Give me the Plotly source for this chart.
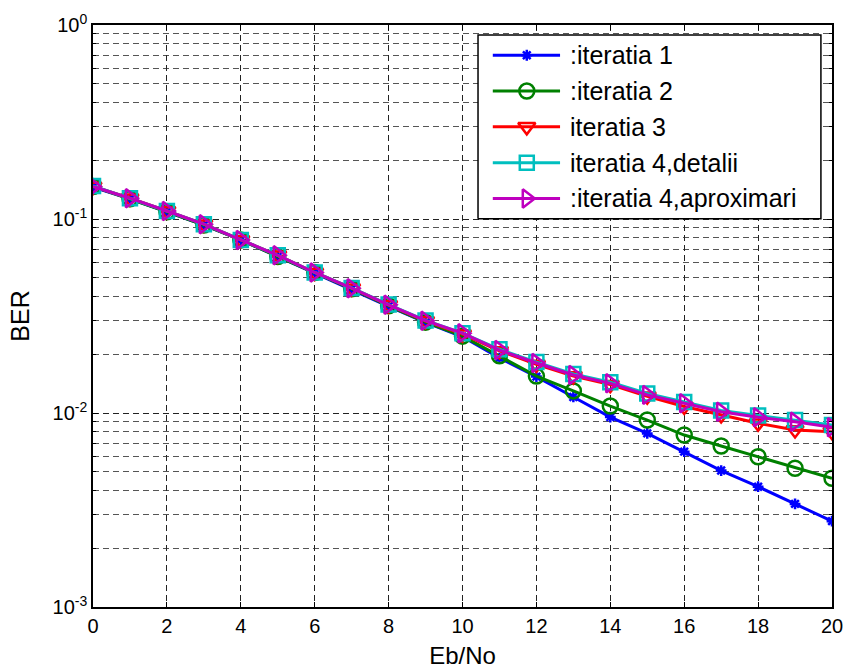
import plotly.graph_objects as go

# Eb/No axis (dB)
ebno = list(range(0, 21))

# BER curves per decoding iteration
ber_it1 = [0.146, 0.127, 0.109, 0.093, 0.078, 0.064, 0.053, 0.0435, 0.0355, 0.0293, 0.0247,
           0.0192, 0.0154, 0.0121, 0.00953, 0.00785, 0.00632, 0.00505, 0.00417, 0.00340, 0.00277]
ber_it2 = [0.147, 0.127, 0.109, 0.093, 0.078, 0.064, 0.053, 0.0437, 0.0357, 0.0294, 0.0249,
           0.0197, 0.0155, 0.0130, 0.01086, 0.0092, 0.0077, 0.00676, 0.00595, 0.00519, 0.00461]
ber_it3 = [0.147, 0.128, 0.110, 0.094, 0.078, 0.065, 0.053, 0.0440, 0.0360, 0.0298, 0.0255,
           0.0209, 0.0178, 0.0155, 0.0140, 0.0122, 0.0108, 0.00977, 0.00885, 0.00817, 0.00801]
ber_it4_det = [0.148, 0.128, 0.110, 0.094, 0.078, 0.065, 0.053, 0.0441, 0.0362, 0.0300, 0.0258,
               0.0213, 0.0183, 0.0159, 0.0144, 0.0126, 0.0114, 0.0103, 0.0097, 0.0092, 0.00867]
ber_it4_apr = [0.147, 0.128, 0.110, 0.094, 0.078, 0.065, 0.053, 0.0440, 0.0361, 0.0299, 0.0258,
               0.0211, 0.0181, 0.0157, 0.01422, 0.0124, 0.01122, 0.01016, 0.0095, 0.00902, 0.00844]

series_names = [":iteratia 1", ":iteratia 2", "iteratia 3", "iteratia 4,detalii", ":iteratia 4,aproximari"]
series_values = [ber_it1, ber_it2, ber_it3, ber_it4_det, ber_it4_apr]
series_colors = ["#0000FF", "#008000", "#FF0000", "#00BFBF", "#BF00BF"]
series_symbols = ["asterisk-open", "circle-open", "triangle-down-open", "square-open", "triangle-right-open"]
series_sizes = [9, 15, 15, 14, 16]

x_ticks = list(range(0, 21, 2))
y_major = [1e-3, 1e-2, 1e-1, 1e0]
y_major_text = ["10<sup>-3</sup>", "10<sup>-2</sup>", "10<sup>-1</sup>", "10<sup>0</sup>"]
y_minor = [m * 10.0 ** e for e in (-3, -2, -1) for m in range(2, 10)]

FONT = "Liberation Sans, Arial, sans-serif"

fig = go.Figure()
for name, vals, col, sym, sz in zip(series_names, series_values, series_colors,
                                    series_symbols, series_sizes):
    fig.add_trace(go.Scatter(
        x=ebno, y=vals, name=name, mode="lines+markers",
        line=dict(color=col, width=3),
        marker=dict(symbol=sym, size=sz, color=col, line=dict(color=col, width=2.5)),
        showlegend=False,
    ))

# Legend box drawn on an overlay axis spanning the plot area (0..1 in both directions)
box_x0, box_x1, box_y0, box_y1 = 0.521, 0.985, 0.667, 0.983
row_y0, row_step = 0.948, -0.0615
line_x0, line_x1, sym_x, text_x = 0.541, 0.632, 0.587, 0.643

fig.add_trace(go.Scatter(
    x=[box_x0, box_x1, box_x1, box_x0, box_x0], y=[box_y0, box_y0, box_y1, box_y1, box_y0],
    xaxis="x2", yaxis="y2", mode="lines", fill="toself", fillcolor="white",
    line=dict(color="black", width=1.5), hoverinfo="skip", showlegend=False,
))
for i, (name, col, sym, sz) in enumerate(zip(series_names, series_colors, series_symbols, series_sizes)):
    ry = row_y0 + i * row_step
    fig.add_trace(go.Scatter(
        x=[line_x0, line_x1], y=[ry, ry], xaxis="x2", yaxis="y2", mode="lines",
        line=dict(color=col, width=3), hoverinfo="skip", showlegend=False,
    ))
    fig.add_trace(go.Scatter(
        x=[sym_x], y=[ry], xaxis="x2", yaxis="y2", mode="markers",
        marker=dict(symbol=sym, size=sz, color=col, line=dict(color=col, width=2.5)),
        hoverinfo="skip", showlegend=False,
    ))
    fig.add_annotation(
        x=text_x, y=ry, xref="paper", yref="paper", text=name, showarrow=False,
        xanchor="left", yanchor="middle", font=dict(family=FONT, size=25, color="black"),
    )

fig.update_layout(
    width=845, height=669,
    margin=dict(l=93, r=13, t=25, b=62),
    paper_bgcolor="white", plot_bgcolor="white",
    font=dict(family=FONT, size=20, color="black"),
    showlegend=False,
    xaxis=dict(
        range=[0, 20], tickvals=x_ticks, ticks="inside", ticklen=5, tickcolor="black",
        showline=True, linecolor="black", linewidth=1.5, mirror="ticks",
        showgrid=True, gridcolor="#222222", griddash="6px,4px", gridwidth=1,
        zeroline=False, automargin=False,
        title=dict(text="Eb/No", font=dict(size=24), standoff=12),
        tickfont=dict(size=20),
    ),
    yaxis=dict(
        type="log", range=[-3, 0], tickvals=y_major, ticktext=y_major_text,
        ticks="inside", ticklen=5, tickcolor="black",
        showline=True, linecolor="black", linewidth=1.5, mirror="ticks",
        showgrid=True, gridcolor="#222222", griddash="6px,4px", gridwidth=1,
        zeroline=False, automargin=False,
        minor=dict(tickvals=y_minor, ticks="inside", ticklen=3, tickcolor="black",
                   showgrid=True, gridcolor="#555555", griddash="6px,4px", gridwidth=1),
        title=dict(text="BER", font=dict(size=25), standoff=16),
        tickfont=dict(size=20),
    ),
    xaxis2=dict(range=[0, 1], overlaying="x", visible=False, fixedrange=True),
    yaxis2=dict(range=[0, 1], overlaying="y", visible=False, fixedrange=True),
)

fig.write_html("out.html")
